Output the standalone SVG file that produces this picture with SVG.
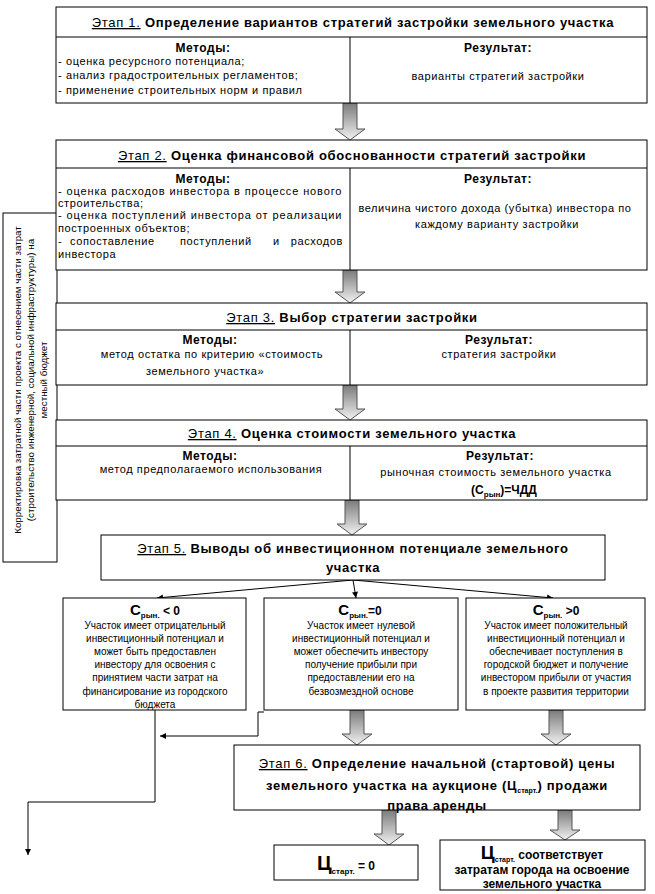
<svg xmlns="http://www.w3.org/2000/svg" width="655" height="894" viewBox="0 0 655 894">
<style>
text{font-family:"Liberation Sans",Arial,sans-serif;fill:#000}
.box{fill:#fff;stroke:#000;stroke-width:1}
.ln{stroke:#000;stroke-width:1;fill:none}
.t{font-size:13px;font-weight:bold;text-anchor:middle;letter-spacing:0.7px}
.h{font-size:12px;font-weight:bold;text-anchor:middle;letter-spacing:0.5px}
.m{font-size:11px;letter-spacing:0.6px}
.c{font-size:11px;text-anchor:middle;letter-spacing:0.6px}
.u{text-decoration:underline}
.ba{fill:url(#g);stroke:#555;stroke-width:1}
.s{font-size:10px;text-anchor:middle}
.hb{font-size:12px;font-weight:bold;text-anchor:middle}
</style>
<defs>
<linearGradient id="g" x1="0" y1="0" x2="0" y2="1">
<stop offset="0" stop-color="#7a7a7a"/>
<stop offset="1" stop-color="#f2f2f2"/>
</linearGradient>
<marker id="ah" viewBox="0 0 10 10" refX="10" refY="5" markerWidth="7" markerHeight="6" orient="auto" markerUnits="userSpaceOnUse">
<path d="M0,0 L10,5 L0,10 Z" fill="#000"/>
</marker>
</defs>

<g id="connectors">
<path class="ba" d="M343,103 L357,103 L357,129 L365,129 L350,140 L335,129 L343,129 Z"/>
<path class="ba" d="M343,270 L357,270 L357,292 L365,292 L350,303 L335,292 L343,292 Z"/>
<path class="ba" d="M343,385 L357,385 L357,409 L365,409 L350,420 L335,409 L343,409 Z"/>
<path class="ba" d="M345,500 L359,500 L359,524 L367,524 L352,535 L337,524 L345,524 Z"/>
<path class="ba" d="M350,710 L364,710 L364,734 L372,734 L357,745 L342,734 L350,734 Z"/>
<path class="ba" d="M549,710 L563,710 L563,734 L571,734 L556,745 L541,734 L549,734 Z"/>
<path class="ba" d="M382,810 L396,810 L396,834 L404,834 L389,845 L374,834 L382,834 Z"/>
<path class="ba" d="M558,810 L572,810 L572,830 L580,830 L565,840 L550,830 L558,830 Z"/>
<line class="ln" x1="353" y1="580" x2="157" y2="598" marker-end="url(#ah)"/>
<line class="ln" x1="353" y1="580" x2="356" y2="598" marker-end="url(#ah)"/>
<line class="ln" x1="353" y1="580" x2="553" y2="598" marker-end="url(#ah)"/>
<path class="ln" d="M155,710 L155,802 L28,802 L28,855" marker-end="url(#ah)"/>
<path class="ln" d="M264,712 L258,712 L258,736 L160,736" marker-end="url(#ah)"/>
<line class="ln" x1="33" y1="470" x2="57" y2="470"/>
<line class="ln" x1="57" y1="446" x2="57" y2="436" marker-end="url(#ah)"/>
</g>

<g id="feedback">
<rect class="box" x="3" y="213" width="54" height="349"/>
<g transform="translate(30,380) rotate(-90)">
<text x="0" y="-9" font-size="9.8" text-anchor="middle">Корректировка затратной части проекта с отнесением части затрат</text>
<text x="0" y="4" font-size="9.8" text-anchor="middle">(строительство инженерной, социальной инфраструктуры) на</text>
<text x="0" y="17" font-size="9.8" text-anchor="middle">местный бюджет</text>
</g>
</g>

<g id="stage1">
<rect class="box" x="56" y="7" width="591" height="96"/>
<line class="ln" x1="56" y1="37" x2="647" y2="37"/>
<line class="ln" x1="350" y1="37" x2="350" y2="103"/>
<text class="t" x="353" y="27"><tspan class="u" font-weight="normal">Этап 1.</tspan> Определение вариантов стратегий застройки земельного участка</text>
<text class="h" x="203" y="52">Методы:</text>
<text class="m" x="58" y="65">- оценка ресурсного потенциала;</text>
<text class="m" x="58" y="79">- анализ градостроительных регламентов;</text>
<text class="m" x="58" y="94">- применение строительных норм и правил</text>
<text class="h" x="498" y="52">Результат:</text>
<text class="c" x="498" y="80">варианты стратегий застройки</text>
</g>

<g id="stage2">
<rect class="box" x="56" y="140" width="591" height="130"/>
<line class="ln" x1="56" y1="168" x2="647" y2="168"/>
<line class="ln" x1="350" y1="168" x2="350" y2="270"/>
<text class="t" x="352" y="160"><tspan class="u" font-weight="normal">Этап 2.</tspan> Оценка финансовой обоснованности стратегий застройки</text>
<text class="h" x="203" y="183">Методы:</text>
<text class="m" x="58" y="195" textLength="284" lengthAdjust="spacing">- оценка расходов инвестора в процессе нового</text>
<text class="m" x="58" y="207">строительства;</text>
<text class="m" x="58" y="219" textLength="284" lengthAdjust="spacing">- оценка поступлений инвестора от реализации</text>
<text class="m" x="58" y="232">построенных объектов;</text>
<text class="m" x="58" y="245">-</text>
<text class="m" x="70" y="245">сопоставление</text>
<text class="m" x="180" y="245">поступлений</text>
<text class="m" x="273" y="245">и</text>
<text class="m" x="343" y="245" text-anchor="end">расходов</text>
<text class="m" x="58" y="258">инвестора</text>
<text class="h" x="498" y="183">Результат:</text>
<text class="c" x="495" y="212">величина чистого дохода (убытка) инвестора по</text>
<text class="c" x="497" y="228">каждому варианту застройки</text>
</g>

<g id="stage3">
<rect class="box" x="56" y="303" width="591" height="82"/>
<line class="ln" x1="56" y1="330" x2="647" y2="330"/>
<line class="ln" x1="350" y1="330" x2="350" y2="385"/>
<text class="t" x="352" y="322"><tspan class="u" font-weight="normal">Этап 3.</tspan> Выбор стратегии застройки</text>
<text class="h" x="210" y="344">Методы:</text>
<text class="c" x="212" y="358">метод остатка по критерию «стоимость</text>
<text class="c" x="205" y="375">земельного участка»</text>
<text class="h" x="499" y="344">Результат:</text>
<text class="c" x="499" y="358">стратегия застройки</text>
</g>

<g id="stage4">
<rect class="box" x="56" y="420" width="591" height="80"/>
<line class="ln" x1="56" y1="446" x2="647" y2="446"/>
<line class="ln" x1="350" y1="446" x2="350" y2="500"/>
<text class="t" x="352" y="438"><tspan class="u" font-weight="normal">Этап 4.</tspan> Оценка стоимости земельного участка</text>
<text class="h" x="210" y="460">Методы:</text>
<text class="c" x="211" y="473">метод предполагаемого использования</text>
<text class="h" x="500" y="460">Результат:</text>
<text class="c" x="496" y="476" letter-spacing="0.9">рыночная стоимость земельного участка</text>
<text class="hb" x="504" y="494"><tspan>(С</tspan><tspan font-size="8" dy="3">рын</tspan><tspan dy="-3">)=ЧДД</tspan></text>
</g>

<g id="stage5">
<rect class="box" x="101" y="535" width="504" height="45"/>
<text class="t" x="353" y="553"><tspan class="u" font-weight="normal">Этап 5.</tspan> Выводы об инвестиционном потенциале земельного</text>
<text class="t" x="353" y="572">участка</text>
</g>

<g id="neg">
<rect class="box" x="63" y="598" width="183" height="112"/>
<text class="hb" x="155" y="615"><tspan font-size="15">С</tspan><tspan font-size="8" dy="3">рын.</tspan><tspan dy="-3"> &lt; 0</tspan></text>
<text class="s" x="155" y="629">Участок  имеет  отрицательный</text>
<text class="s" x="155" y="642">инвестиционный потенциал и</text>
<text class="s" x="155" y="655">может быть предоставлен</text>
<text class="s" x="155" y="668">инвестору для освоения с</text>
<text class="s" x="155" y="681">принятием части затрат на</text>
<text class="s" x="155" y="695">финансирование из городского</text>
<text class="s" x="155" y="708">бюджета</text>
</g>

<g id="zero">
<rect class="box" x="264" y="598" width="194" height="112"/>
<text class="hb" x="360" y="615"><tspan font-size="15">С</tspan><tspan font-size="8" dy="3">рын.</tspan><tspan dy="-3">=0</tspan></text>
<text class="s" x="361" y="629">Участок имеет нулевой</text>
<text class="s" x="361" y="642">инвестиционный потенциал и</text>
<text class="s" x="361" y="655">может обеспечить инвестору</text>
<text class="s" x="361" y="668">получение прибыли при</text>
<text class="s" x="361" y="681">предоставлении его на</text>
<text class="s" x="361" y="695">безвозмездной основе</text>
</g>

<g id="pos">
<rect class="box" x="466" y="598" width="179" height="112"/>
<text class="hb" x="556" y="615"><tspan font-size="15">С</tspan><tspan font-size="8" dy="3">рын.</tspan><tspan dy="-3"> &gt;0</tspan></text>
<text class="s" x="556" y="629">Участок имеет положительный</text>
<text class="s" x="556" y="642">инвестиционный потенциал и</text>
<text class="s" x="556" y="655">обеспечивает поступления в</text>
<text class="s" x="556" y="668">городской бюджет и получение</text>
<text class="s" x="556" y="681">инвестором прибыли от участия</text>
<text class="s" x="556" y="695">в проекте развития территории</text>
</g>

<g id="stage6">
<rect class="box" x="234" y="745" width="406" height="65"/>
<text class="t" x="437" y="768" font-size="13.5" letter-spacing="0.8"><tspan class="u" font-weight="normal">Этап 6.</tspan> Определение начальной (стартовой) цены</text>
<text class="t" x="437" y="790" font-size="13.5" letter-spacing="0.8">земельного участка на аукционе (Ц<tspan font-size="7" dy="3" letter-spacing="0">старт.</tspan><tspan dy="-3">) продажи</tspan></text>
<text class="t" x="437" y="810" font-size="13.5" letter-spacing="0.8">права аренды</text>
</g>

<g id="zeroprice">
<rect class="box" x="274" y="845" width="144" height="35"/>
<text class="hb" x="346" y="870" font-size="18"><tspan font-size="20">Ц</tspan><tspan font-size="8" dy="4">старт.</tspan><tspan dy="-4"> = 0</tspan></text>
</g>

<g id="costprice">
<rect class="box" x="440" y="840" width="205" height="50"/>
<text class="hb" x="542" y="859" font-size="11"><tspan font-size="19">Ц</tspan><tspan font-size="7" dy="3">старт.</tspan><tspan dy="-3">  соответствует</tspan></text>
<text class="hb" x="542" y="874" font-size="11">затратам города на освоение</text>
<text class="hb" x="542" y="888" font-size="11">земельного участка</text>
</g>
</svg>
